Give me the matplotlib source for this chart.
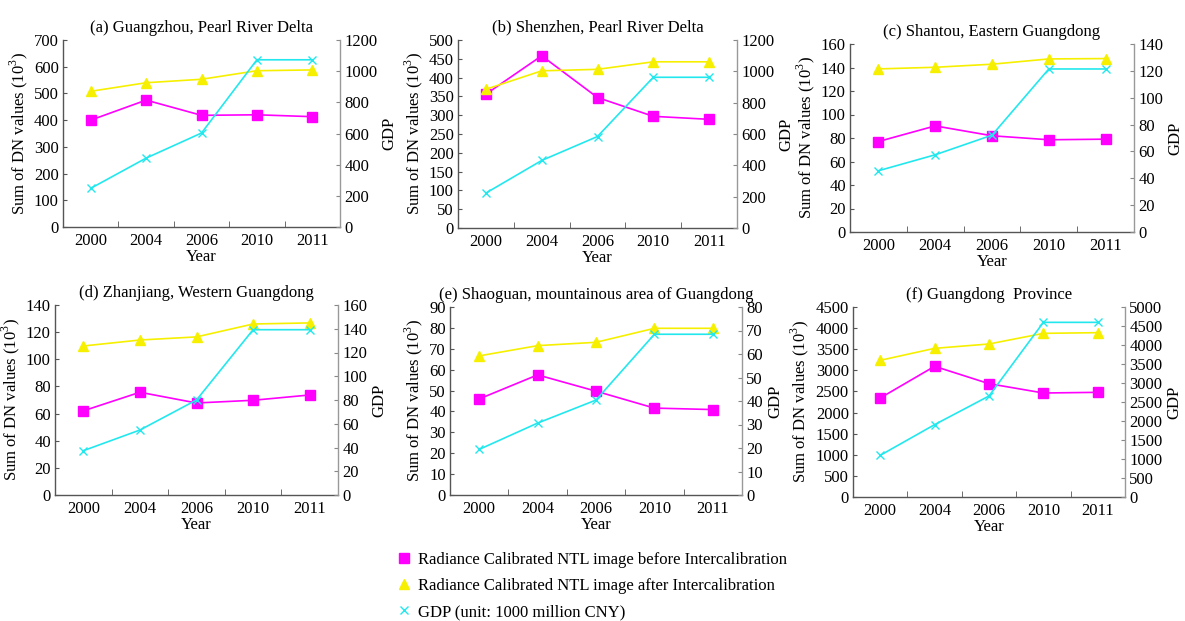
import matplotlib
matplotlib.use("Agg")
import matplotlib.pyplot as plt
from matplotlib.lines import Line2D
from matplotlib.ticker import MultipleLocator, FixedLocator, NullFormatter

plt.rcParams['font.family'] = ['Liberation Serif', 'DejaVu Serif']
plt.rcParams['mathtext.fontset'] = 'custom'
plt.rcParams['mathtext.rm'] = 'Liberation Serif'

years = ['2000', '2004', '2006', '2010', '2011']

titles = ['(a) Guangzhou, Pearl River Delta',
          '(b) Shenzhen, Pearl River Delta',
          '(c) Shantou, Eastern Guangdong',
          '(d) Zhanjiang, Western Guangdong',
          '(e) Shaoguan, mountainous area of Guangdong',
          '(f) Guangdong  Province']

before_a = [400, 475, 418, 420, 413]
after_a = [508, 540, 553, 585, 588]
gdp_a = [248, 442, 603, 1073, 1073]

before_b = [356, 458, 347, 297, 289]
after_b = [369, 418, 422, 442, 442]
gdp_b = [223, 431, 584, 962, 962]

before_c = [77, 90.3, 81.9, 78.5, 79]
after_c = [138.8, 140.2, 142.8, 147.3, 147.6]
gdp_c = [45.6, 57.5, 72.1, 121.4, 121.4]

before_d = [62, 75.7, 67.8, 69.8, 73.7]
after_d = [109.8, 114.2, 116.5, 126.0, 126.8]
gdp_d = [37.3, 54.7, 80.0, 139.2, 139.2]

before_e = [46, 57.5, 49.7, 41.6, 40.9]
after_e = [66.6, 71.5, 73.1, 79.8, 79.8]
gdp_e = [19.4, 30.6, 40.4, 68.4, 68.4]

before_f = [2345, 3095, 2684, 2463, 2479]
after_f = [3237, 3521, 3624, 3876, 3892]
gdp_f = [1096, 1904, 2658, 4596, 4596]

left_lim = [(700, 100), (500, 50), (160, 20), (140, 20), (90, 10), (4500, 500)]
right_lim = [(1200, 200), (1200, 200), (140, 20), (160, 20), (80, 10), (5000, 500)]

legend_labels = ['Radiance Calibrated NTL image before Intercalibration',
                 'Radiance Calibrated NTL image after Intercalibration',
                 'GDP (unit: 1000 million CNY)']

series = [(before_a, after_a, gdp_a), (before_b, after_b, gdp_b),
          (before_c, after_c, gdp_c), (before_d, after_d, gdp_d),
          (before_e, after_e, gdp_e), (before_f, after_f, gdp_f)]

# panel boxes in pixels: left, right, top, bottom
boxes = [(63, 340, 40, 227), (458, 737, 40, 228), (850, 1134, 44, 232),
         (55, 338, 305, 495), (450, 742, 307, 495), (853, 1125, 307, 497)]

W, H = 1185, 621
fig = plt.figure(figsize=(W / 100, H / 100), dpi=100)

C_PINK = '#ff00ff'
C_YEL = '#f6f000'
C_CYAN = '#22e8ee'
FS = 12

for i, (l, r, t, b) in enumerate(boxes):
    ax = fig.add_axes([l / W, 1 - b / H, (r - l) / W, (b - t) / H])
    ax2 = ax.twinx()
    before, after, gdp = series[i]
    x = list(range(len(years)))
    ax.plot(x, before, color=C_PINK, lw=1.2, marker='s', ms=6.5, zorder=3)
    ax.plot(x, after, color=C_YEL, lw=1.2, marker='^', ms=6.5, zorder=3)
    ax2.plot(x, gdp, color=C_CYAN, lw=1.2, marker='x', ms=5.5, mew=1.0, zorder=3)

    ax.set_xlim(-0.5, len(years) - 0.5)
    ymax, ystep = left_lim[i]
    ax.set_ylim(0, ymax)
    ax.yaxis.set_major_locator(MultipleLocator(ystep))
    rmax, rstep = right_lim[i]
    ax2.set_ylim(0, rmax)
    ax2.yaxis.set_major_locator(MultipleLocator(rstep))

    ax.set_xticks(x)
    ax.set_xticklabels(years)
    ax.xaxis.set_minor_locator(FixedLocator([k + 0.5 for k in x[:-1]]))
    ax.xaxis.set_minor_formatter(NullFormatter())
    ax.tick_params(axis='x', which='major', length=0, pad=4, labelsize=FS)
    ax.tick_params(axis='x', which='minor', length=4, direction='in', color='#555555')
    ax.tick_params(axis='y', length=3, direction='in', pad=3, labelsize=FS, color='#555555')
    ax2.tick_params(axis='y', length=3, direction='in', pad=3, labelsize=FS, color='#888888')

    for a in (ax, ax2):
        a.spines['top'].set_visible(False)
    ax.spines['right'].set_visible(False)
    ax2.spines['left'].set_visible(False)
    ax2.spines['bottom'].set_visible(False)
    ax.spines['left'].set_color('#555555')
    ax.spines['bottom'].set_color('#555555')
    ax2.spines['right'].set_color('#999999')
    for s in ('left', 'bottom'):
        ax.spines[s].set_linewidth(1.0)
    ax2.spines['right'].set_linewidth(1.0)

    ax.set_title(titles[i], fontsize=FS, pad=6)
    ax.set_xlabel('Year', fontsize=FS, labelpad=0)
    ax.set_ylabel('Sum of DN values (10$^3$)', fontsize=FS, labelpad=3)
    ax2.set_ylabel('GDP', fontsize=FS, labelpad=3)

handles = [Line2D([], [], color=C_PINK, marker='s', ls='none', ms=6.5),
           Line2D([], [], color=C_YEL, marker='^', ls='none', ms=6.5),
           Line2D([], [], color=C_CYAN, marker='x', ls='none', ms=5.5, mew=1.0)]
fig.legend(handles, legend_labels, loc='upper left', bbox_to_anchor=(386 / W, 1 - 540 / H),
           frameon=False, fontsize=FS, handlelength=0.8, handletextpad=0.4,
           labelspacing=0.62, borderpad=0.2)

fig.savefig('out.png', dpi=100)
